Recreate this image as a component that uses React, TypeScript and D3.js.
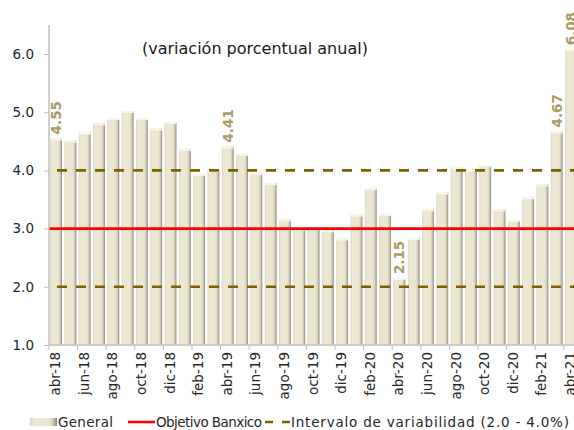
import React, { useEffect, useRef } from 'react';
import * as d3 from 'd3';

// meses (abr-18 .. abr-21)
const months = [
  'abr-18', 'may-18', 'jun-18', 'jul-18', 'ago-18', 'sep-18', 'oct-18', 'nov-18', 'dic-18',
  'ene-19', 'feb-19', 'mar-19', 'abr-19', 'may-19', 'jun-19', 'jul-19', 'ago-19', 'sep-19',
  'oct-19', 'nov-19', 'dic-19', 'ene-20', 'feb-20', 'mar-20', 'abr-20', 'may-20', 'jun-20',
  'jul-20', 'ago-20', 'sep-20', 'oct-20', 'nov-20', 'dic-20', 'ene-21', 'feb-21', 'mar-21',
  'abr-21',
];

// inflación general anual (%)
const general = [
  4.55, 4.51, 4.65, 4.81, 4.90, 5.02, 4.90, 4.72, 4.83,
  4.37, 3.94, 4.00, 4.41, 4.28, 3.95, 3.78, 3.16, 3.00,
  3.02, 2.97, 2.83, 3.24, 3.70, 3.25, 2.15, 2.84, 3.33,
  3.62, 4.05, 4.01, 4.09, 3.33, 3.15, 3.54, 3.76, 4.67,
  6.08,
];

const labelled = ['abr-18', 'abr-19', 'abr-20', 'mar-21', 'abr-21'];
const objetivo = 3.0;
const intervalo = [2.0, 4.0];
const yTicks = [1.0, 2.0, 3.0, 4.0, 5.0, 6.0];

const W = 574;
const H = 430;
const FONT = '"DejaVu Sans", sans-serif';

export default function App() {
  const ref = useRef<SVGSVGElement>(null);

  useEffect(() => {
    const svg = d3.select(ref.current);
    svg.selectAll('*').remove();

    const left = 49;
    const x = d3.scaleBand<string>()
      .domain(months)
      .range([left, left + months.length * 14.3])
      .paddingInner(0.17)
      .paddingOuter(0.08);
    const y = d3.scaleLinear().domain([1, 6]).range([345, 54]);

    const defs = svg.append('defs');
    const grad = defs.append('linearGradient').attr('id', 'barGrad')
      .attr('x1', 0).attr('x2', 1).attr('y1', 0).attr('y2', 0);
    grad.append('stop').attr('offset', '0%').attr('stop-color', '#ddd7bf');
    grad.append('stop').attr('offset', '15%').attr('stop-color', '#ece7d3');
    grad.append('stop').attr('offset', '70%').attr('stop-color', '#ebe5d0');
    grad.append('stop').attr('offset', '85%').attr('stop-color', '#d2ccb7');
    grad.append('stop').attr('offset', '100%').attr('stop-color', '#8a877e');

    // bars
    const bars = svg.append('g');
    bars.selectAll('rect.bar')
      .data(general)
      .join('rect')
      .attr('class', 'bar')
      .attr('x', (_, i) => x(months[i])!)
      .attr('y', (d) => y(d))
      .attr('width', x.bandwidth())
      .attr('height', (d) => y(1) - y(d))
      .attr('fill', 'url(#barGrad)');
    bars.selectAll('rect.top')
      .data(general)
      .join('rect')
      .attr('class', 'top')
      .attr('x', (_, i) => x(months[i])!)
      .attr('y', (d) => y(d))
      .attr('width', x.bandwidth())
      .attr('height', 2)
      .attr('fill', '#f8f5ea');

    // reference lines
    const x0 = left;
    const x1 = W;
    intervalo.forEach((v) => {
      svg.append('line')
        .attr('x1', x0 + 8).attr('x2', x1)
        .attr('y1', y(v)).attr('y2', y(v))
        .attr('stroke', '#7f6000')
        .attr('stroke-width', 2.6)
        .attr('stroke-dasharray', '10,9');
    });
    svg.append('line')
      .attr('x1', x0).attr('x2', x1)
      .attr('y1', y(objetivo)).attr('y2', y(objetivo))
      .attr('stroke', '#ff0000')
      .attr('stroke-width', 2.6);

    // y axis
    const yAxis = svg.append('g')
      .attr('transform', `translate(${left},0)`)
      .call(d3.axisLeft(y).tickValues(yTicks).tickFormat(d3.format('.1f')).tickSize(5).tickPadding(10));
    yAxis.select('.domain').remove();
    svg.append('line')
      .attr('x1', left).attr('x2', left)
      .attr('y1', 25).attr('y2', 345)
      .attr('stroke', '#bfbfbf').attr('stroke-width', 1.5);
    yAxis.selectAll('line').attr('stroke', '#bfbfbf');
    yAxis.selectAll('text')
      .attr('font-family', FONT).attr('font-size', 13.5).attr('fill', '#262626');

    // x axis
    const evenMonths = months.filter((_, i) => i % 2 === 0);
    const xAxis = svg.append('g').attr('transform', 'translate(0,345)');
    xAxis.append('line')
      .attr('x1', left).attr('x2', W)
      .attr('y1', 0).attr('y2', 0)
      .attr('stroke', '#bfbfbf').attr('stroke-width', 1.5);
    xAxis.selectAll('line.tick')
      .data(evenMonths)
      .join('line')
      .attr('class', 'tick')
      .attr('x1', (m) => x(m)! - x.step() * x.paddingInner() / 2)
      .attr('x2', (m) => x(m)! - x.step() * x.paddingInner() / 2)
      .attr('y1', 0).attr('y2', 5)
      .attr('stroke', '#bfbfbf');
    xAxis.selectAll('text')
      .data(evenMonths)
      .join('text')
      .attr('transform', (m) => `translate(${x(m)! + x.bandwidth() / 2 + 4},7) rotate(-90)`)
      .attr('text-anchor', 'end')
      .attr('font-family', FONT)
      .attr('font-size', 13.5)
      .attr('fill', '#262626')
      .text((m) => m);

    // data labels
    svg.append('g').selectAll('text')
      .data(labelled)
      .join('text')
      .attr('transform', (m) => {
        const v = general[months.indexOf(m)];
        return `translate(${x(m)! + x.bandwidth() / 2 + 5},${y(v) - 4}) rotate(-90)`;
      })
      .attr('font-family', FONT)
      .attr('font-size', 13.5)
      .attr('font-weight', 'bold')
      .attr('fill', '#a99b64')
      .text((m) => general[months.indexOf(m)].toFixed(2));

    // subtitle
    svg.append('text')
      .attr('x', 142).attr('y', 54)
      .attr('font-family', FONT)
      .attr('font-size', 16)
      .attr('fill', '#1a1a1a')
      .text('(variación porcentual anual)');

    // legend
    const lg = svg.append('g').attr('transform', 'translate(0,422)');
    lg.append('rect').attr('x', 30).attr('y', -4).attr('width', 27).attr('height', 8)
      .attr('fill', 'url(#barGrad)');
    lg.append('text').attr('x', 58).attr('y', 5).attr('textLength', 55).text('General');
    lg.append('line').attr('x1', 128).attr('x2', 155).attr('y1', 0).attr('y2', 0)
      .attr('stroke', '#ff0000').attr('stroke-width', 2.6);
    lg.append('text').attr('x', 156).attr('y', 5).attr('textLength', 106).text('Objetivo Banxico');
    lg.append('line').attr('x1', 265).attr('x2', 291).attr('y1', 0).attr('y2', 0)
      .attr('stroke', '#7f6000').attr('stroke-width', 2.6).attr('stroke-dasharray', '8,9');
    lg.append('text').attr('x', 291).attr('y', 5).attr('textLength', 278)
      .text('Intervalo de variabilidad (2.0 - 4.0%)');
    lg.selectAll('text')
      .attr('font-family', FONT).attr('font-size', 13.5).attr('lengthAdjust', 'spacing')
      .attr('fill', '#262626');
  }, []);

  return (
    <svg
      ref={ref}
      width={W}
      height={H}
      style={{ position: 'absolute', left: 0, top: 0, background: '#fff' }}
    />
  );
}
